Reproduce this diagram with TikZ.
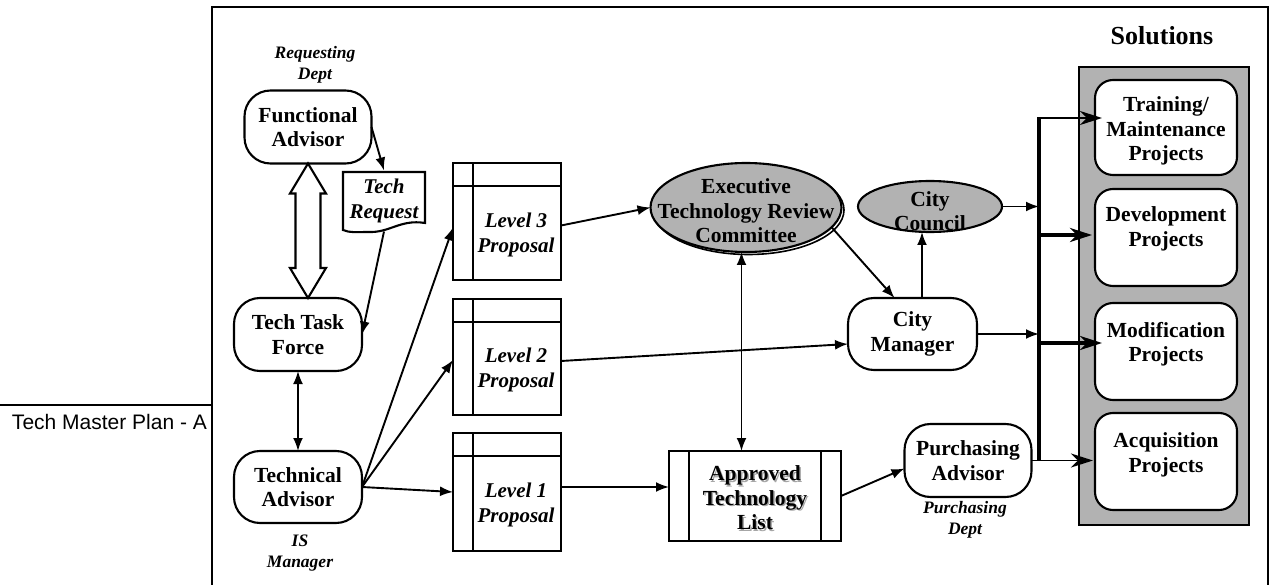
\documentclass[tikz,border=0pt]{standalone}
\usepackage{fontspec}
\setmainfont{Liberation Serif}
\newfontfamily\arialf{Liberation Sans}
\usetikzlibrary{arrows.meta,shapes.geometric,calc}
\tikzset{
  every node/.style={inner sep=0pt, outer sep=0pt},
  lbl/.style={font=\fontsize{21.5}{24.5}\selectfont\bfseries, align=center},
  ilbl/.style={font=\fontsize{21}{25}\selectfont\bfseries\itshape, align=center},
  smalllbl/.style={font=\fontsize{17.5}{21.5}\selectfont\bfseries\itshape, align=center},
  outline/.style={draw, line width=2.1pt},
  roundbox/.style={outline, rounded corners=26pt, fill=white, lbl},
  solbox/.style={outline, rounded corners=18pt, fill=white, minimum width=142pt, minimum height=97pt},
  propbox/.style={outline, fill=white, minimum width=108pt,
    path picture={
      \draw[line width=2.1pt] ([xshift=20pt]path picture bounding box.north west) -- ([xshift=20pt]path picture bounding box.south west);
      \draw[line width=2.1pt] ([yshift=-23pt]path picture bounding box.north west) -- ([yshift=-23pt]path picture bounding box.north east);
    }},
  grayell/.style={ellipse, outline, fill=black!30},
  conn/.style={line width=1.9pt, -{Latex[length=13pt,width=10pt]}},
  conn2/.style={line width=1.9pt, {Latex[length=13pt,width=10pt]}-{Latex[length=13pt,width=10pt]}},
  brthin/.style={line width=1.9pt, -{Stealth[length=22pt,width=14pt,inset=7pt]}},
  brthick/.style={line width=3.8pt, -{Stealth[length=22pt,width=14pt,inset=7pt]}},
}
\begin{document}
\begin{tikzpicture}[x=1pt,y=-1pt]
\useasboundingbox (0,0) rectangle (1272,585);
% page footer fragment
\draw[line width=1.3pt] (0,405) -- (212,405);
\node[font=\arialf\fontsize{21}{24}\selectfont, anchor=base west] (footer) at (12,429) {Tech Master Plan - A};
% frame
\draw[line width=2.2pt, fill=white] (212,7) rectangle (1268,595);

% Solutions panel
\node[font=\fontsize{26}{30}\selectfont\bfseries, anchor=base] (soltitle) at (1162,45) {Solutions};
\draw[outline, fill=black!30] (1079,67) rectangle (1249,525);
\node[solbox, minimum height=95pt] (train) at (1166,127.5) {};
\node[solbox] (dev) at (1166,237.5) {};
\node[solbox] (mod) at (1166,351.5) {};
\node[solbox] (acq) at (1166,461.5) {};
\node[lbl] (traint) at (1166,131) {Training/\\Maintenance\\Projects};
\node[lbl] (devt) at (1166,229) {Development\\Projects};
\node[lbl] (modt) at (1166,344) {Modification\\Projects};
\node[lbl] (acqt) at (1166,455) {Acquisition\\Projects};

% left column
\node[smalllbl] (reqdept) at (315,65) {Requesting\\Dept};
\node[roundbox, minimum width=127pt, minimum height=73pt] (fa) at (308,127) {Functional\\Advisor};
\node[roundbox, minimum width=128pt, minimum height=73pt] (ttf) at (298,334.5) {Tech Task\\Force};
\node[roundbox, minimum width=128pt, minimum height=72pt] (ta) at (298,487) {Technical\\Advisor};
\node[smalllbl] (isman) at (300,553) {IS\\Manager};

% hollow double arrow
\draw[line width=2.1pt, fill=white] (fa.south) -- ++(18,30) -- ++(-5.5,0) -- ++(0,74.5) -- ++(5.5,0) -- ++(-18,30) -- ++(-18,-30) -- ++(5.5,0) -- ++(0,-74.5) -- ++(-5.5,0) -- cycle;

% Tech request document
\draw[outline, fill=white] (343,172) -- (425,172) -- (425,223) .. controls (400,219) and (390,233) .. (368,232) .. controls (356,232) and (350,233) .. (343,230) -- cycle;
\node[ilbl, minimum width=82pt, minimum height=61pt] (treq) at (384,201) {Tech\\Request};

% proposals
\node[propbox, minimum height=117pt] (l3) at (507,221.5) {};
\node[propbox, minimum height=116pt] (l2) at (507,357) {};
\node[propbox, minimum height=118pt] (l1) at (507,492) {};
\node[ilbl] (l3t) at (516,235) {Level 3\\Proposal};
\node[ilbl] (l2t) at (516,369.5) {Level 2\\Proposal};
\node[ilbl] (l1t) at (516,504.5) {Level 1\\Proposal};

% executive committee
\node[ellipse, draw, line width=1.6pt, minimum width=191pt, minimum height=89pt] (exsh) at (748.5,210) {};
\node[grayell, minimum width=191pt, minimum height=89pt] (ex) at (746,207.5) {};
\node[lbl] (ext) at (746,211) {Executive\\Technology Review\\Committee};

% city council
\node[grayell, minimum width=144pt, minimum height=51pt] (cc) at (930,206.5) {};
\node[lbl] (cct) at (930,211) {City\\Council};

% city manager
\node[roundbox, minimum width=129pt, minimum height=72pt] (cm) at (912.5,334) {City\\Manager};

% approved technology list
\node[outline, fill=white, minimum width=172pt, minimum height=90pt,
  path picture={
    \draw[line width=2.1pt] ([xshift=20pt]path picture bounding box.north west) -- ([xshift=20pt]path picture bounding box.south west);
    \draw[line width=2.1pt] ([xshift=-20pt]path picture bounding box.north east) -- ([xshift=-20pt]path picture bounding box.south east);
  }] (atl) at (755,496) {};
\node[lbl, text=black!35] (atlsh) at (756.5,499.5) {Approved\\Technology\\List};
\node[lbl] (atlt) at (755,498) {Approved\\Technology\\List};

% purchasing advisor
\node[roundbox, minimum width=127pt, minimum height=73pt] (pa) at (968,460.5) {Purchasing\\Advisor};
\node[smalllbl] (pdept) at (965,520) {Purchasing\\Dept};

% connectors, left part
\draw[conn] (fa.east) -- (treq.north);
\draw[conn] (treq.south) -- (ttf.east);
\draw[conn2] (ttf.south) -- (ta.north);
\draw[conn] (ta.east) -- ([yshift=-6pt]l3.west);
\draw[conn] (ta.east) -- ([yshift=-3pt]l2.west);
\draw[conn] (ta.east) -- (l1.west);

% connectors, middle
\draw[conn] ([yshift=-4pt]l3.east) -- (ex.west);
\draw[conn] ([yshift=-4pt]l2.east) -- ([yshift=-10pt]cm.west);
\draw[conn] ([yshift=5pt]l1.east) -- ([yshift=5pt]l1.east -| atl.west);
\draw[conn] (atl.east) -- ([yshift=-8pt]pa.west);
\draw[conn2] ([xshift=-4.5pt]ex.south) -- ([xshift=-4.5pt]ex.south |- atl.north);
\draw[conn] (ex.-13) -- ([xshift=-18pt]cm.north);
\draw[conn] ([xshift=9.5pt]cm.north) -- ([xshift=9.5pt]cm.north |- cc.south);

% bus to solutions
\coordinate (bustop) at (1039,118);
\coordinate (busbot) at (1039,460.5);
\coordinate (busdev) at (1039,235);
\coordinate (busmod) at (1039,343);
\draw[line width=3.8pt] ([yshift=0.9pt]bustop) -- (busbot);
\draw[conn] (cc.east) -- (cc.east -| bustop);
\draw[conn] (cm.east) -- (cm.east -| bustop);
\draw[brthin, shorten >=-7pt] (bustop) -- (bustop -| train.west);
\draw[brthick, shorten >=3pt] (busdev) -- (busdev -| dev.west);
\draw[brthick, shorten >=-7pt] (busmod) -- (busmod -| mod.west);
\draw[brthin, shorten >=2pt] (pa.east) -- (pa.east -| acq.west);
\end{tikzpicture}
\end{document}
